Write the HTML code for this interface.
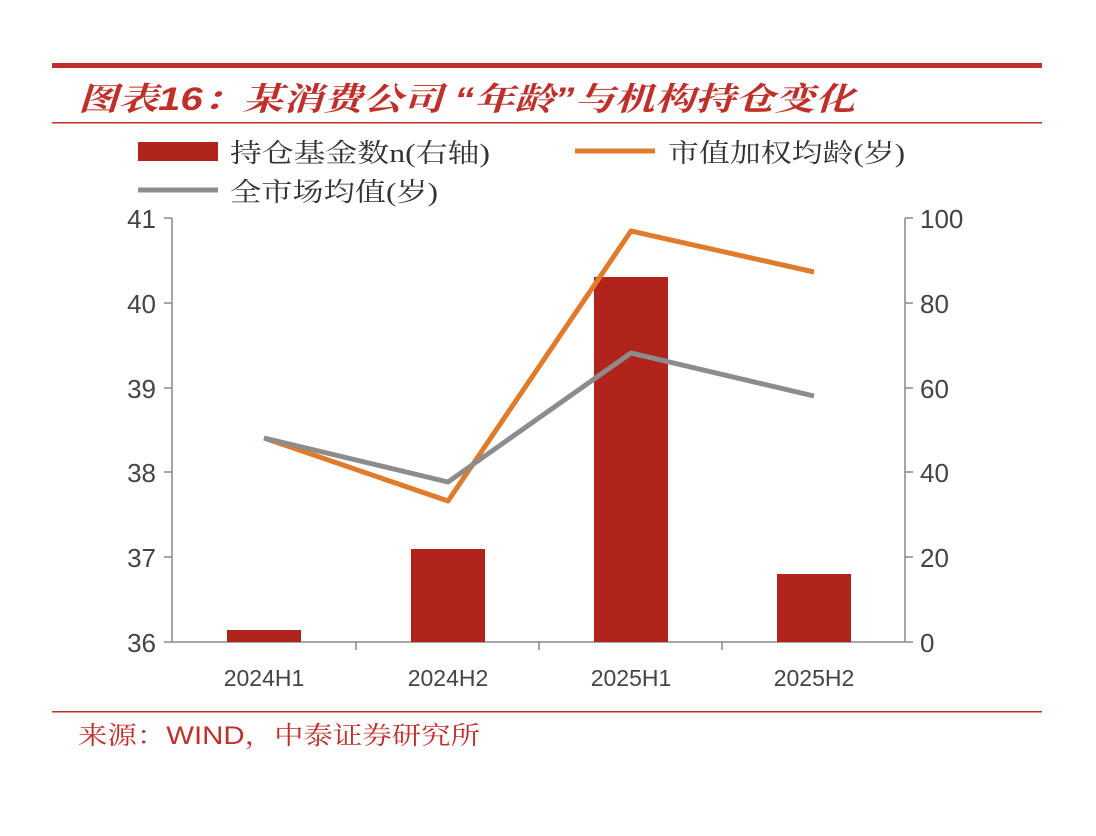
<!DOCTYPE html>
<html><head><meta charset="utf-8"><style>
body{margin:0;background:#fff;}
svg{display:block;font-family:"Liberation Sans","Noto Sans CJK SC",sans-serif;}
</style></head><body>
<svg width="1096" height="836" viewBox="0 0 1096 836" xmlns="http://www.w3.org/2000/svg">
<rect width="1096" height="836" fill="#fff"/>
<rect x="52" y="63" width="990" height="5" fill="#c0302b"/>
<text x="78" y="110" font-size="32" font-weight="bold" font-style="italic" fill="#c0302b" textLength="777" lengthAdjust="spacingAndGlyphs" font-family="'Liberation Sans','Noto Serif CJK SC',serif">图表16：某消费公司 “年龄”与机构持仓变化</text>
<rect x="52" y="122" width="990" height="1.5" fill="#c0302b"/>
<rect x="138" y="142" width="80" height="19" fill="#b0241c"/>
<text x="230" y="162" font-size="26" fill="#333" textLength="260" lengthAdjust="spacingAndGlyphs" font-family="'Liberation Serif','Noto Serif CJK SC',serif">持仓基金数n(右轴)</text>
<line x1="575" y1="151" x2="655" y2="151" stroke="#e07b2c" stroke-width="5"/>
<text x="668" y="162" font-size="26" fill="#333" textLength="237" lengthAdjust="spacingAndGlyphs" font-family="'Liberation Serif','Noto Serif CJK SC',serif">市值加权均龄(岁)</text>
<line x1="138" y1="190" x2="218" y2="190" stroke="#8c8c8c" stroke-width="5"/>
<text x="230" y="201" font-size="26" fill="#333" textLength="208" lengthAdjust="spacingAndGlyphs" font-family="'Liberation Serif','Noto Serif CJK SC',serif">全市场均值(岁)</text>
<g stroke="#888" stroke-width="1.5" fill="none">
<line x1="172" y1="218" x2="172" y2="642"/>
<line x1="905" y1="218" x2="905" y2="642"/>
<line x1="172" y1="642" x2="905" y2="642"/>
<line x1="164" y1="218" x2="172" y2="218"/><line x1="164" y1="303" x2="172" y2="303"/><line x1="164" y1="388" x2="172" y2="388"/><line x1="164" y1="472" x2="172" y2="472"/><line x1="164" y1="557" x2="172" y2="557"/><line x1="164" y1="642" x2="172" y2="642"/>
<line x1="905" y1="218" x2="913" y2="218"/><line x1="905" y1="303" x2="913" y2="303"/><line x1="905" y1="388" x2="913" y2="388"/><line x1="905" y1="472" x2="913" y2="472"/><line x1="905" y1="557" x2="913" y2="557"/><line x1="905" y1="642" x2="913" y2="642"/>
<line x1="356" y1="642" x2="356" y2="650"/><line x1="539" y1="642" x2="539" y2="650"/><line x1="722" y1="642" x2="722" y2="650"/>
</g>
<g font-size="26" fill="#444" text-anchor="end">
<text x="156" y="228">41</text><text x="156" y="313">40</text><text x="156" y="398">39</text><text x="156" y="482">38</text><text x="156" y="567">37</text><text x="156" y="652">36</text>
</g>
<g font-size="26" fill="#444">
<text x="920" y="228">100</text><text x="920" y="313">80</text><text x="920" y="398">60</text><text x="920" y="482">40</text><text x="920" y="567">20</text><text x="920" y="652">0</text>
</g>
<g fill="#b0241c">
<rect x="227" y="630" width="74" height="12"/>
<rect x="411" y="549" width="74" height="93"/>
<rect x="594" y="277" width="74" height="365"/>
<rect x="777" y="574" width="74" height="68"/>
</g>
<polyline points="264,438 448,501 631,231 814,272" fill="none" stroke="#e07b2c" stroke-width="5" stroke-linejoin="round"/>
<polyline points="264,438 448,482 631,353 814,396" fill="none" stroke="#8c8c8c" stroke-width="5" stroke-linejoin="round"/>
<g font-size="23" fill="#444" text-anchor="middle">
<text x="264" y="686">2024H1</text><text x="448" y="686">2024H2</text><text x="631" y="686">2025H1</text><text x="814" y="686">2025H2</text>
</g>
<rect x="52" y="711" width="990" height="1.5" fill="#c0302b"/>
<text x="78" y="744" font-size="25" fill="#c0302b" textLength="402" lengthAdjust="spacingAndGlyphs" font-family="'Liberation Sans','Noto Serif CJK SC',serif">来源：WIND，中泰证券研究所</text>
</svg>
</body></html>
